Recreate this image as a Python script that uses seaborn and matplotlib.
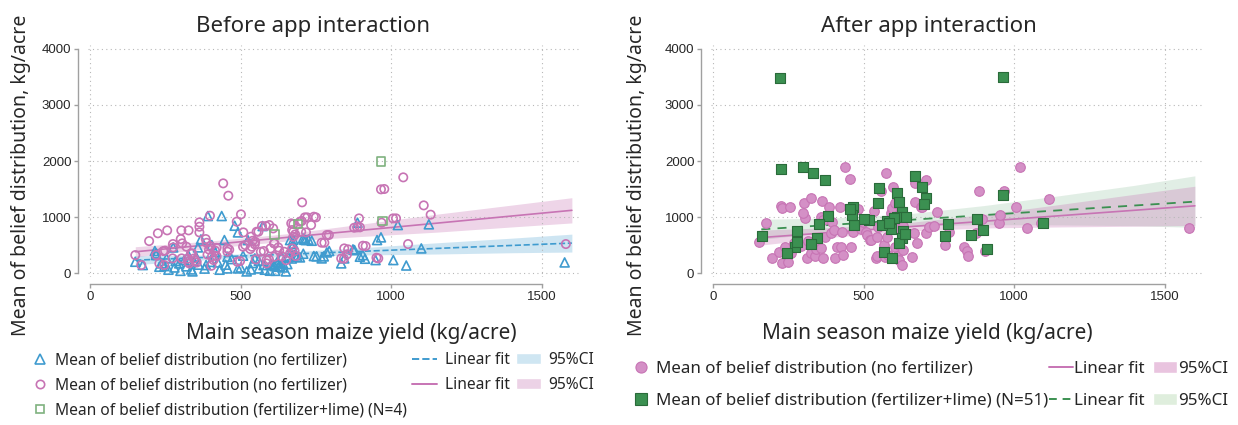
import numpy as np
import pandas as pd
import seaborn as sns
import matplotlib.pyplot as plt
from matplotlib.lines import Line2D
from matplotlib.patches import Patch

# ---- before app interaction ----
# no fertilizer (triangles)
tri_x = [150, 215, 219, 230, 238, 247, 254, 276, 284, 296, 313, 326, 336, 345, 352, 358, 368, 385,
         391, 404, 415, 424, 437, 446, 456, 456, 480, 491, 491, 508, 524, 534, 547, 560, 573, 576,
         597, 612, 625, 636, 658, 664, 671, 680, 688, 707, 716, 736, 743, 769, 786, 834, 844, 873,
         888, 896, 906, 948, 953, 966, 1007, 1022, 1050, 1100, 1125, 1576, 878, 913, 794, 776, 752,
         711, 725, 675, 675, 708, 697, 670, 610, 620, 640, 655, 630, 175, 219, 260, 280, 300, 320,
         340, 360, 380, 400, 430, 450, 470, 500, 520, 540, 560, 580, 600, 615, 625, 640, 650]
tri_y = [202, 393, 321, 113, 173, 125, 262, 458, 214, 173, 232, 321, 65, 202, 292, 458, 601, 143,
         1018, 500, 381, 190, 1018, 589, 292, 83, 845, 726, 83, 310, 589, 65, 262, 83, 839, 143,
         42, 125, 113, 292, 280, 589, 470, 321, 292, 619, 589, 577, 304, 262, 369, 173, 262, 423,
         899, 292, 321, 232, 589, 637, 232, 857, 135, 440, 870, 190, 410, 256, 393, 298, 298,
         595, 595, 595, 518, 345, 280, 260, 150, 190, 175, 160, 120, 143, 351, 60, 100, 40, 120,
         30, 150, 80, 200, 60, 150, 250, 100, 30, 180, 220, 60, 160, 40, 190, 100, 30]

# no fertilizer (circles)
circ_x = [150, 170, 196, 225, 256, 303, 327, 301, 306, 275, 243, 219, 230, 246, 363, 363, 363, 398,
          442, 459, 501, 487, 509, 384, 387, 400, 420, 415, 395, 390, 405, 420, 548, 559, 584, 595,
          608, 577, 594, 550, 498, 462, 320, 335, 345, 325, 350, 537, 515, 532, 1040, 977, 704, 721,
          750, 675, 697, 675, 681, 717, 778, 793, 611, 636, 645, 651, 679, 683, 857, 853, 843, 887,
          896, 915, 957, 968, 1016, 1056, 1108, 1131, 1580, 410, 403, 456, 456, 489, 508, 534, 540,
          547, 553, 571, 567, 586, 599, 612, 625, 628, 612, 586, 668, 671, 675, 703, 713, 701, 734,
          743, 664, 671, 769, 786, 844, 834, 877, 893, 906, 951, 966, 1006, 276, 249, 274, 304, 324,
          329, 339, 354]
circ_y = [321, 143, 571, 710, 762, 762, 762, 607, 530, 518, 393, 322, 173, 143, 905, 827, 726, 1024,
          1601, 1381, 1048, 917, 726, 607, 540, 480, 450, 400, 420, 330, 300, 300, 560, 738, 839, 857,
          797, 393, 244, 244, 214, 417, 470, 350, 260, 200, 220, 470, 500, 429, 1708, 1500, 1262, 994,
          994, 875, 917, 738, 690, 726, 542, 679, 530, 300, 380, 230, 393, 304, 423, 333, 256, 816,
          816, 482, 262, 899, 976, 518, 1208, 1042, 518, 232, 131, 440, 381, 202, 470, 649, 577,
          512, 738, 839, 381, 232, 440, 530, 458, 399, 292, 173, 887, 768, 649, 929, 994, 738, 857,
          1006, 351, 440, 542, 679, 440, 262, 809, 976, 488, 274, 1494, 976, 458, 399, 262, 262, 256,
          173, 351, 190]

# fertilizer+lime (squares, N=4)
sq_b_x = [612, 690, 966, 971]
sq_b_y = [690, 875, 1990, 930]

# linear fits and 95% CI
fit_x = [150, 400, 650, 900, 1150, 1400, 1600]
fit_tri = [230, 283, 335, 388, 440, 493, 535]
fit_tri_lo = [150, 243, 295, 323, 340, 363, 375]
fit_tri_hi = [310, 323, 375, 453, 540, 623, 695]
fit_circ = [380, 508, 635, 763, 890, 1018, 1120]
fit_circ_lo = [290, 443, 570, 653, 730, 823, 895]
fit_circ_hi = [470, 573, 700, 873, 1050, 1213, 1345]

# ---- after app interaction ----
circ_a_x = [154, 176, 197, 219, 225, 228, 229, 238, 249, 254, 260, 270, 279, 293, 301, 304, 300, 311,
            315, 325, 326, 337, 342, 358, 362, 364, 359, 364, 372, 385, 390, 394, 401, 405, 411, 420,
            424, 428, 433, 439, 454, 459, 463, 462, 472, 481, 492, 498, 508, 512, 520, 525, 535, 540,
            544, 544, 548, 556, 569, 570, 574, 577, 581, 590, 594, 599, 603, 605, 606, 612, 618, 618,
            626, 629, 629, 660, 668, 670, 670, 678, 689, 694, 707, 707, 716, 733, 743, 769, 784, 834,
            843, 847, 873, 882, 894, 902, 948, 954, 965, 1006, 1019, 1043, 1088, 1117, 1580]
circ_a_y = [560, 887, 262, 369, 1202, 1155, 185, 458, 202, 1173, 351, 542, 577, 488, 1244, 976, 1065,
            262, 577, 1333, 351, 304, 423, 440, 1292, 262, 1006, 946, 637, 1184, 708, 917, 768, 262,
            458, 1173, 458, 738, 321, 1899, 1673, 470, 726, 1155, 1155, 1137, 780, 917, 726, 679, 589,
            589, 1113, 262, 649, 310, 815, 1464, 500, 292, 1792, 649, 321, 1065, 1155, 1530, 470, 1244,
            798, 304, 500, 232, 143, 411, 839, 292, 720, 1601, 1262, 542, 1184, 1184, 1661, 708, 827,
            839, 1083, 500, 738, 470, 399, 310, 708, 1464, 964, 399, 887, 1036, 1470, 1173, 1899, 798,
            887, 1321, 798]

# fertilizer+lime (squares, N=51)
sq_a_x = [221, 962, 225, 298, 331, 372, 670, 693, 706, 552, 548, 610, 618, 626, 962, 466, 468, 462,
          383, 352, 344, 278, 272, 245, 162, 519, 579, 590, 630, 626, 618, 568, 594, 781, 770, 856,
          875, 897, 908, 1096, 612, 324, 638, 600, 640, 455, 560, 280, 585, 700, 500]
sq_a_y = [3480, 3500, 1857, 1899, 1780, 1661, 1732, 1542, 1333, 1512, 1250, 1423, 1274, 1083, 1393,
          1173, 857, 1030, 1024, 875, 619, 750, 470, 351, 661, 946, 933, 786, 750, 619, 542, 381, 262,
          875, 661, 679, 964, 768, 423, 887, 994, 512, 700, 990, 1000, 1150, 850, 560, 900, 1230, 960]

fit_a_x = [150, 400, 650, 900, 1150, 1400, 1600]
fit_a_circ = [630, 728, 827, 925, 1023, 1121, 1200]
fit_a_circ_lo = [495, 643, 752, 805, 823, 836, 850]
fit_a_circ_hi = [765, 813, 902, 1045, 1223, 1406, 1550]
fit_g_x = [160, 400, 650, 900, 1150, 1400, 1600]
fit_a_sq = [780, 863, 949, 1035, 1120, 1206, 1275]
fit_a_sq_lo = [600, 743, 839, 865, 860, 846, 815]
fit_a_sq_hi = [960, 983, 1059, 1205, 1380, 1566, 1735]

BLUE = '#3f9bcf'
PINK = '#c774b4'
GREEN_L = '#7fb27f'
GREEN = '#3b9051'

sns.set_theme(style='white')
plt.rcParams['font.family'] = ['Noto Sans', 'DejaVu Sans']

fig = plt.figure(figsize=(12.38, 4.25), dpi=100)
W, H = 1238, 425
ax1 = fig.add_axes([88 / W, 1 - 277 / H, 492 / W, 232 / H])
ax2 = fig.add_axes([711 / W, 1 - 277 / H, 492 / W, 232 / H])


def style_axes(ax, title, title_x, xlab_x, ylab_x):
    ax.set_xlim(-7, 1627)
    ax.set_ylim(-70, 4070)
    ax.set_xticks([0, 500, 1000, 1500])
    ax.set_yticks([0, 1000, 2000, 3000, 4000])
    ax.grid(True, ls=(0, (1, 3)), color='#b8b8b8', lw=0.8, zorder=1)
    for s in ['top', 'right']:
        ax.spines[s].set_visible(False)
    ax.spines['left'].set_position(('outward', 7))
    ax.spines['bottom'].set_position(('outward', 5))
    ax.spines['left'].set_bounds(0, 4000)
    ax.spines['bottom'].set_bounds(0, 1500)
    for s in ['left', 'bottom']:
        ax.spines[s].set_color('#a0a0a0')
        ax.spines[s].set_linewidth(1)
    ax.tick_params(axis='both', length=3, width=1, color='#a0a0a0', labelsize=9.5, pad=2,
                   left=True, bottom=True)
    for lab in ax.get_xticklabels() + ax.get_yticklabels():
        lab.set_family('Liberation Sans')
    ax.set_xlabel('Main season maize yield (kg/acre)', fontsize=15)
    ax.xaxis.set_label_coords(xlab_x, -0.2)
    ax.set_ylabel('Mean of belief distribution, kg/acre', fontsize=14)
    ax.yaxis.set_label_coords(ylab_x, 0.44)
    ax.set_title(title, fontsize=16, x=title_x, y=1.02)


def fit_band(ax, x, lo, hi, color, alpha):
    ax.fill_between(x, lo, hi, color=color, alpha=alpha, lw=0, zorder=0.5)


# before
fit_band(ax1, fit_x, fit_tri_lo, fit_tri_hi, BLUE, 0.25)
fit_band(ax1, fit_x, fit_circ_lo, fit_circ_hi, PINK, 0.3)
sns.lineplot(x=fit_x, y=fit_tri, color=BLUE, ls='--', lw=1.2, ax=ax1, zorder=2)
sns.lineplot(x=fit_x, y=fit_circ, color=PINK, lw=1.2, ax=ax1, zorder=2)
sns.scatterplot(x=tri_x, y=tri_y, marker='^', s=42, facecolor='none', edgecolor=BLUE,
                linewidth=1.2, ax=ax1, zorder=3)
sns.scatterplot(x=circ_x, y=circ_y, marker='o', s=36, facecolor='none', edgecolor=PINK,
                linewidth=1.2, ax=ax1, zorder=3)
sns.scatterplot(x=sq_b_x, y=sq_b_y, marker='s', s=36, facecolor='none', edgecolor=GREEN_L,
                linewidth=1.2, ax=ax1, zorder=3)

# after
fit_band(ax2, fit_g_x, fit_a_sq_lo, fit_a_sq_hi, GREEN, 0.15)
fit_band(ax2, fit_a_x, fit_a_circ_lo, fit_a_circ_hi, PINK, 0.3)
sns.lineplot(x=fit_a_x, y=fit_a_circ, color=PINK, lw=1.2, ax=ax2, zorder=2)
sns.lineplot(x=fit_g_x, y=fit_a_sq, color=GREEN, ls=(0, (5, 4)), lw=1.3, ax=ax2, zorder=2)
sns.scatterplot(x=circ_a_x, y=circ_a_y, marker='o', s=48, color='#d490c6', edgecolor=PINK,
                linewidth=0.8, ax=ax2, zorder=3)
sns.scatterplot(x=sq_a_x, y=sq_a_y, marker='s', s=50, color=GREEN, edgecolor='#2a6b3a',
                linewidth=0.8, ax=ax2, zorder=3)

style_axes(ax1, 'Before app interaction', 0.457, 0.535, -0.115)
style_axes(ax2, 'After app interaction', 0.443, 0.44, -0.13)

# legends
lab_no = 'Mean of belief distribution (no fertilizer)'
h1 = [Line2D([], [], ls='none', marker='^', ms=7, mfc='none', mec=BLUE, mew=1.2),
      Line2D([], [], ls='none', marker='o', ms=6, mfc='none', mec=PINK, mew=1.2),
      Line2D([], [], ls='none', marker='s', ms=6, mfc='none', mec=GREEN_L, mew=1.2)]
leg1 = ax1.legend(h1, [lab_no, lab_no, 'Mean of belief distribution (fertilizer+lime) (N=4)'],
                  loc='upper left', bbox_to_anchor=(24 / W, 1 - 346 / H),
                  bbox_transform=fig.transFigure, frameon=False, fontsize=11.2,
                  handletextpad=0.4, labelspacing=0.58, borderaxespad=0, handlelength=1.2)
ax1.add_artist(leg1)
h1b = [Line2D([], [], color=BLUE, ls='--', lw=1.4), Line2D([], [], color=PINK, lw=1.4),
       Patch(facecolor='#cfe6f2'), Patch(facecolor='#ecd2e6')]
ax1.legend(h1b, ['Linear fit', 'Linear fit', '95%CI', '95%CI'], ncol=2, loc='upper left',
           bbox_to_anchor=(406 / W, 1 - 346 / H), bbox_transform=fig.transFigure,
           frameon=False, fontsize=11.2, handletextpad=0.5, labelspacing=0.58,
           columnspacing=0.4, borderaxespad=0, handlelength=1.6)

h2 = [Line2D([], [], ls='none', marker='o', ms=8, mfc='#d490c6', mec=PINK, mew=0.8),
      Line2D([], [], ls='none', marker='s', ms=8, mfc=GREEN, mec='#2a6b3a', mew=0.8)]
leg2 = ax2.legend(h2, [lab_no, 'Mean of belief distribution (fertilizer+lime) (N=51)'],
                  loc='upper left', bbox_to_anchor=(626 / W, 1 - 354 / H),
                  bbox_transform=fig.transFigure, frameon=False, fontsize=12.2,
                  handletextpad=0.35, labelspacing=0.95, borderaxespad=0, handlelength=1.0)
ax2.add_artist(leg2)
h2b = [Line2D([], [], color=PINK, lw=1.4), Line2D([], [], color=GREEN, ls=(0, (4, 3)), lw=1.4),
       Patch(facecolor='#e9c4df'), Patch(facecolor='#dfeedd')]
ax2.legend(h2b, ['Linear fit', 'Linear fit', '95%CI', '95%CI'], ncol=2, loc='upper left',
           bbox_to_anchor=(1042 / W, 1 - 354 / H), bbox_transform=fig.transFigure,
           frameon=False, fontsize=12.2, handletextpad=0.1, labelspacing=0.95,
           columnspacing=0.5, borderaxespad=0, handlelength=1.4)

fig.savefig('out.png', dpi=100)
